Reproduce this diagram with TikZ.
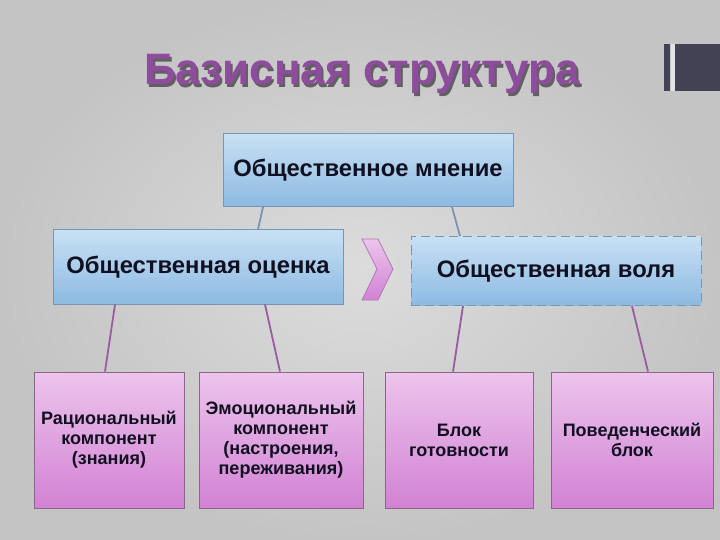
\documentclass[tikz,border=0pt]{standalone}
\usepackage{fontspec}
\setmainfont{Liberation Sans}
\usepackage{pdfrender}
\usetikzlibrary{shadings}
\definecolor{bgin}{RGB}{220,220,220}
\definecolor{bgout}{RGB}{196,196,196}
\definecolor{bluetop}{RGB}{200,224,244}
\definecolor{bluebot}{RGB}{140,186,226}
\definecolor{blueline}{RGB}{120,150,180}
\definecolor{pinktop}{RGB}{236,196,236}
\definecolor{pinkbot}{RGB}{210,130,212}
\definecolor{pinkline}{RGB}{140,100,140}
\definecolor{purpleline}{RGB}{156,90,160}
\definecolor{titlecol}{RGB}{142,76,156}
\definecolor{txt}{RGB}{16,16,32}
\definecolor{bar}{RGB}{66,66,84}
\tikzset{
  bluebox/.style={rectangle, draw=blueline, line width=1pt, top color=bluetop, bottom color=bluebot, text=txt, font=\bfseries\fontsize{23.8}{26}\selectfont, inner sep=0pt},
  pinkbox/.style={rectangle, draw=pinkline, line width=0.8pt, top color=pinktop, bottom color=pinkbot, text=txt, font=\bfseries\fontsize{18}{20}\selectfont, align=center, inner sep=0pt, minimum height=136pt},
  bconn/.style={draw=blueline, line width=1.8pt},
  pconn/.style={draw=purpleline, line width=1.8pt},
  titletxt/.style={font=\bfseries\fontsize{44}{48}\selectfont}
}
\newcommand{\ttl}{Базисная структура}
\begin{document}
\begin{tikzpicture}[x=1pt,y=-1pt]
\shade[inner color=bgin, outer color=bgout] (0,0) rectangle (720,540);
\useasboundingbox (0,0) rectangle (720,540);
% top right bar
\fill[bar] (664,44) rectangle (670,91);
\fill[bar] (675,44) rectangle (720,91);
\fill[white!85!bar] (670.5,44) rectangle (674.5,91);
% title: shadow, then outlined purple text
\node[titletxt, text=gray!75!black] at (364,77) {\ttl};
\node[titletxt, text=titlecol] (title) at (362,74) {\textpdfrender{TextRenderingMode=FillStroke, LineWidth=2.2, StrokeColor=white, LineJoin=1}{\ttl}};
% boxes
\node[bluebox, minimum width=290pt, minimum height=73pt] (top) at (368,170) {Общественное мнение};
\node[bluebox, minimum width=290pt, minimum height=74pt] (oc) at (198,267) {Общественная оценка};
\node[bluebox, dashed, dash pattern=on 9pt off 5pt, minimum width=290pt, minimum height=69pt] (vol) at (556,271) {Общественная воля};
\node[pinkbox, minimum width=150pt] (b1) at (109,440) {\raisebox{-3pt}{\begin{tabular}{@{}c@{}}Рациональный\\компонент\\(знания)\end{tabular}}};
\node[pinkbox, minimum width=164pt] (b2) at (281,440) {Эмоциональный\\компонент\\(настроения,\\переживания)};
\node[pinkbox, minimum width=148pt] (b3) at (459,440) {Блок\\готовности};
\node[pinkbox, minimum width=162pt] (b4) at (632,440) {Поведенческий\\блок};
% chevron
\shade[top color=pinktop, bottom color=pinkbot, draw=purpleline!80, line width=0.8pt]
  (362,239) -- (378,239) -- (393,269) -- (378,300) -- (362,300) -- (377,269) -- cycle;
% connectors
\path[bconn] ([xshift=-105pt]top.south) -- ([xshift=60pt]oc.north);
\path[bconn] ([xshift=84pt]top.south) -- ([xshift=-96pt]vol.north);
\path[pconn] ([xshift=-83pt]oc.south) -- ([xshift=-4pt]b1.north);
\path[pconn] ([xshift=67pt]oc.south) -- ([xshift=-1pt]b2.north);
\path[pconn] ([xshift=-93pt]vol.south) -- ([xshift=-6pt]b3.north);
\path[pconn] ([xshift=76pt]vol.south) -- ([xshift=16pt]b4.north);
\end{tikzpicture}
\end{document}
